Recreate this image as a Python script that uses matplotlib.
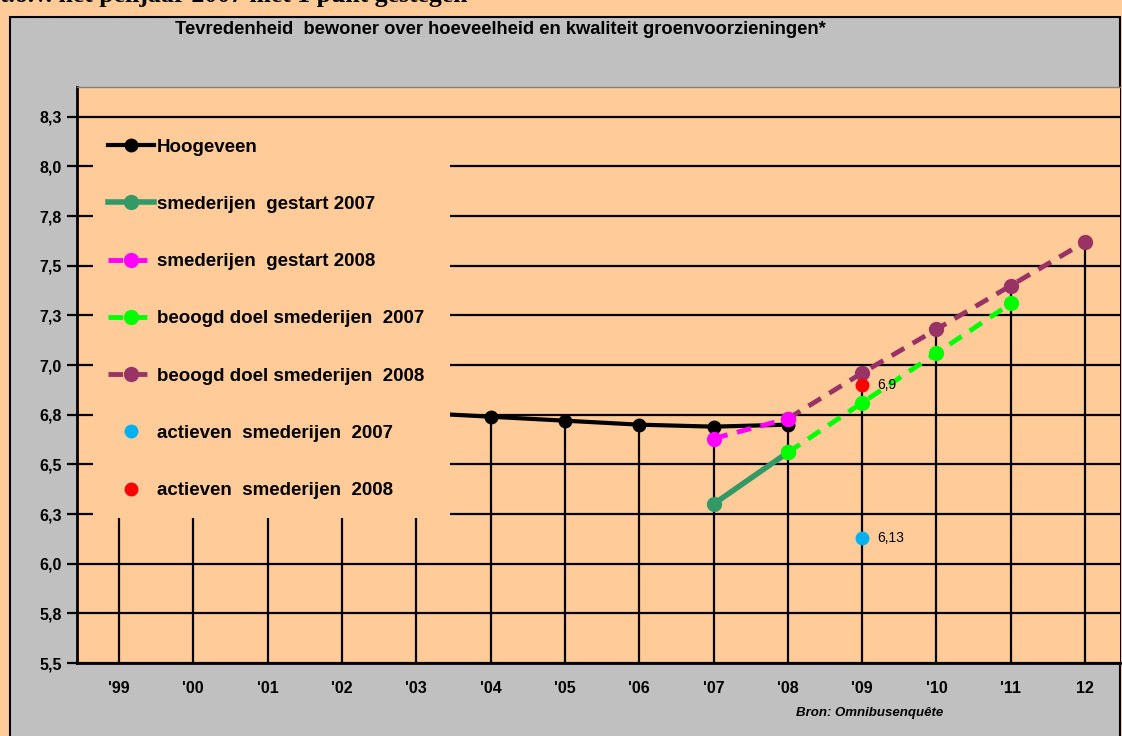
import matplotlib.pyplot as plt
from matplotlib.patches import Rectangle
import numpy as np

plt.rcParams['font.family'] = ['Liberation Sans', 'DejaVu Sans']

years = ["'99", "'00", "'01", "'02", "'03", "'04", "'05", "'06", "'07", "'08", "'09", "'10", "'11", "12"]
nan = np.nan
hoogeveen = [6.78, 6.80, 6.77, 6.79, 6.76, 6.74, 6.72, 6.70, 6.69, 6.70, nan, nan, nan, nan]
gestart_2007 = [nan] * 8 + [6.30, 6.56, nan, nan, nan, nan]
gestart_2008 = [nan] * 8 + [6.63, 6.73, nan, nan, nan, nan]
doel_2007 = [nan] * 9 + [6.56, 6.81, 7.06, 7.31, nan]
doel_2008 = [nan] * 9 + [6.73, 6.96, 7.18, 7.40, 7.62]
actief_2007 = [nan] * 10 + [6.13, nan, nan, nan]
actief_2008 = [nan] * 10 + [6.90, nan, nan, nan]

yticks = [5.5, 5.75, 6.0, 6.25, 6.5, 6.75, 7.0, 7.25, 7.5, 7.75, 8.0, 8.25]
ylabels = ['5,5', '5,8', '6,0', '6,3', '6,5', '6,8', '7,0', '7,3', '7,5', '7,8', '8,0', '8,3']

W, H = 1122, 736
fig = plt.figure(figsize=(W / 100, H / 100), dpi=100)
fig.patch.set_facecolor('#FFCC99')

# grey chart area
fig.patches.append(Rectangle((10 / W, -0.05), (1120 - 10) / W, (H - 17) / H + 0.05,
                             transform=fig.transFigure, facecolor='#C0C0C0',
                             edgecolor='black', lw=1.5, zorder=-1))

# cut-off heading above the chart
fig.text(0.0, (H - 2) / H, 't.o.v. het peiljaar 2007 met 1 punt gestegen',
         family='Liberation Serif', weight='bold', fontsize=18.5, va='baseline', ha='left')

ax = fig.add_axes([77 / W, (H - 663) / H, (1120 - 77) / W, (663 - 87) / H])
ax.set_facecolor('#FFCC99')
x = np.arange(len(years))
ax.set_xlim(-0.565, 13.47)
ax.set_ylim(5.5, 8.4)

for yv in yticks:
    ax.axhline(yv, color='black', lw=1.6, zorder=1)

# drop lines from highest point per year
allv = np.array([hoogeveen, gestart_2007, gestart_2008, doel_2007, doel_2008])
tops = np.nanmax(allv, axis=0)
ax.vlines(x, 5.5, tops, color='black', lw=1.6, zorder=1)

ax.plot(x, hoogeveen, color='black', lw=3, marker='o', ms=9, label='Hoogeveen', zorder=3)
ax.plot(x, gestart_2007, color='#339966', lw=4, marker='o', ms=10, label='smederijen  gestart 2007', zorder=3)
ax.plot(x, gestart_2008, color='#FF00FF', lw=3.5, marker='o', ms=10, dashes=(3, 2),
        label='smederijen  gestart 2008', zorder=4)
ax.plot(x, doel_2007, color='#00FF00', lw=3.5, marker='o', ms=10, dashes=(3, 2),
        label='beoogd doel smederijen  2007', zorder=3)
ax.plot(x, doel_2008, color='#993366', lw=3.5, marker='o', ms=10, dashes=(3, 2),
        label='beoogd doel smederijen  2008', zorder=3)
ax.plot(x, actief_2007, ls='none', color='#00B0F0', marker='o', ms=9,
        label='actieven  smederijen  2007', zorder=4)
ax.plot(x, actief_2008, ls='none', color='#FF0000', marker='o', ms=9,
        label='actieven  smederijen  2008', zorder=4)

ax.text(10.2, 6.90, '6,9', fontsize=10, va='center', ha='left', zorder=5)
ax.text(10.2, 6.13, '6,13', fontsize=10, va='center', ha='left', zorder=5)

ax.set_xticks(x)
ax.set_xticklabels(years, fontsize=11.5, weight='bold')
ax.set_yticks(yticks)
ax.set_yticklabels(ylabels, fontsize=11.5, weight='bold')
ax.tick_params(axis='x', length=0, pad=13)
ax.tick_params(axis='y', length=7, width=1.6, direction='out', pad=4)

ax.spines['left'].set_linewidth(2)
ax.spines['bottom'].set_linewidth(2)
ax.spines['top'].set_color('#808080')
ax.spines['top'].set_linewidth(1)
ax.spines['right'].set_visible(False)

# orange box behind the legend (hides grid and early Hoogeveen values)
ax.add_patch(Rectangle((93 / W, (H - 518) / H), (450 - 93) / W, (518 - 120) / H,
                       transform=fig.transFigure, facecolor='#FFCC99', edgecolor='none',
                       zorder=6, clip_on=False))

handles, labels = ax.get_legend_handles_labels()
leg = ax.legend(handles, labels, loc='upper left', bbox_to_anchor=(100 / W, (H - 131) / H),
                bbox_transform=fig.transFigure, frameon=False, numpoints=1,
                prop={'weight': 'bold', 'size': 13.5}, labelspacing=2.14,
                handlelength=2.5, handletextpad=0.15, borderaxespad=0)
leg.set_zorder(7)

fig.text(500 / W, (H - 29) / H,
         'Tevredenheid  bewoner over hoeveelheid en kwaliteit groenvoorzieningen*',
         fontsize=13.2, weight='bold', ha='center', va='center')
fig.text(870 / W, (H - 713) / H, 'Bron: Omnibusenquête', fontsize=9.5,
         weight='bold', style='italic', ha='center', va='center')

fig.savefig('out.png', dpi=100, facecolor=fig.get_facecolor())
